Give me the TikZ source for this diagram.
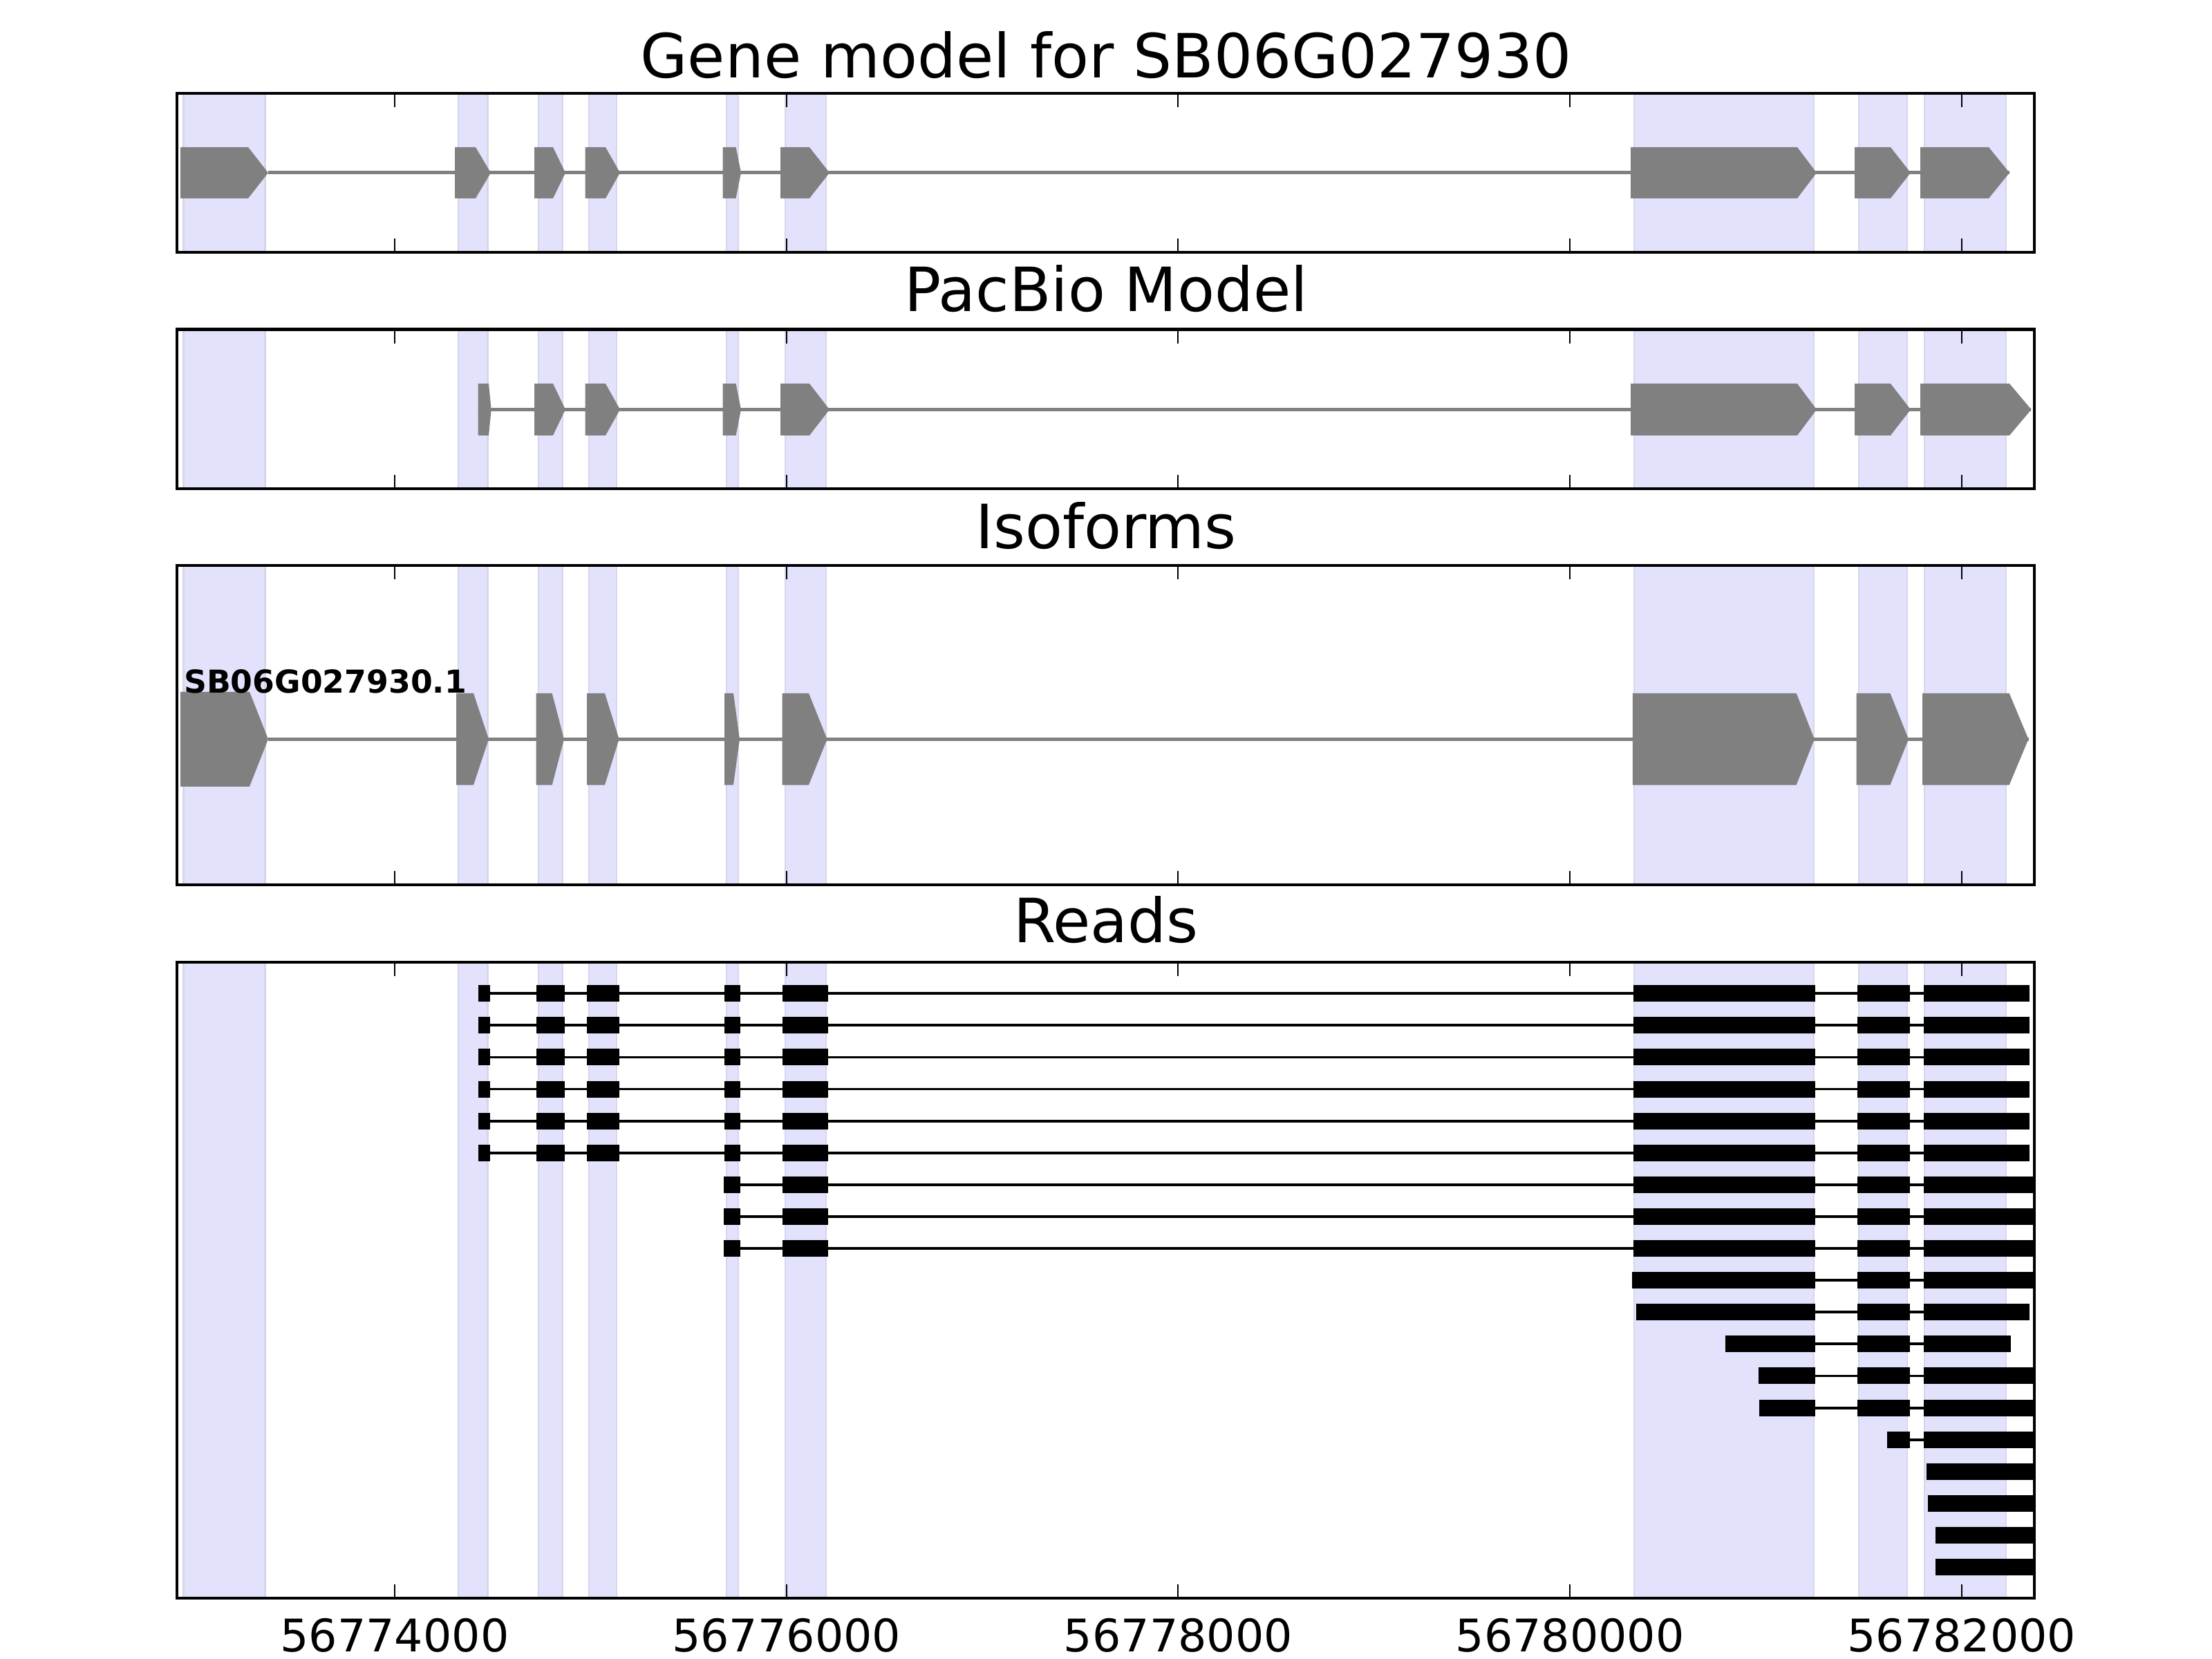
\documentclass[tikz,border=0pt]{standalone}
\usepackage{fontspec}
\setmainfont{DejaVu Sans}
\usetikzlibrary{positioning}
\definecolor{bandfill}{RGB}{226,226,252}
\definecolor{bandedge}{RGB}{214,214,234}
\definecolor{exongray}{RGB}{128,128,128}
\tikzset{
  frame/.style={draw=black, line width=1.3pt},
  tickmark/.style={draw=black, line width=0.6pt},
  band/.style={fill=bandfill, draw=bandedge, line width=0.8pt},
  intron/.style={draw=exongray, line width=1.4pt},
  exon/.style={fill=exongray},
  readline/.style={draw=black, line width=1.1pt},
  readblock/.style={fill=black},
  paneltitle/.style={anchor=base, inner sep=0pt, font=\fontsize{25.1}{30}\selectfont},
  ticklabel/.style={anchor=base, inner sep=0pt, font=\fontsize{18.5}{22}\selectfont},
}
\def\xl{2.56}
\def\xr{29.43}
\def\bands{2.655/3.835, 6.63/7.056, 7.79/8.14, 8.52/8.92, 10.51/10.68,
  11.36/11.95, 23.64/26.24, 26.89/27.59, 27.84/29.02}

\begin{document}
\begin{tikzpicture}
\useasboundingbox (0,0) rectangle (32,24);

% highlighted exon regions, in every panel
\foreach \bot/\top in {20.35/22.65, 16.93/19.233, 11.20/15.82, 0.88/10.08}
  \foreach \p/\q in \bands
    \draw[band] (\p,\bot) rectangle (\q,\top);

% gene model
\begin{scope}[yshift=21.50cm]
  \def\h{0.37}
  \draw[intron] (3.88,0) -- (29.07,0);
  \foreach \a/\b/\c in {2.61/3.59/3.88, 6.58/6.88/7.10, 7.73/8.00/8.18,
      8.465/8.76/8.97, 10.455/10.646/10.72, 11.29/11.71/12.00,
      23.59/26.00/26.28, 26.83/27.35/27.64, 27.78/28.77/29.07}
    \fill[exon] (\a,-\h) -- (\b,-\h) -- (\c,0) -- (\b,\h) -- (\a,\h) -- cycle;
\end{scope}

% pacbio model
\begin{scope}[yshift=18.075cm]
  \def\h{0.375}
  \draw[intron] (6.915,0) -- (29.38,0);
  \foreach \a/\b/\c in {6.915/7.07/7.107, 7.73/8.00/8.18,
      8.465/8.76/8.97, 10.455/10.646/10.72, 11.29/11.71/12.00,
      23.59/26.00/26.28, 26.83/27.35/27.64, 27.78/29.07/29.386}
    \fill[exon] (\a,-\h) -- (\b,-\h) -- (\c,0) -- (\b,\h) -- (\a,\h) -- cycle;
\end{scope}

% isoforms
\begin{scope}[yshift=13.307cm]
  \def\h{0.663}
  \draw[intron] (3.88,0) -- (29.345,0);
  \fill[exon] (2.61,-0.685) -- (3.61,-0.685) -- (3.88,0) -- (3.61,0.685) -- (2.61,0.685) -- cycle;
  \foreach \a/\b/\c in {6.60/6.85/7.07, 7.757/7.987/8.16,
      8.49/8.75/8.956, 10.48/10.61/10.70, 11.316/11.70/11.966,
      23.618/25.987/26.248, 26.857/27.345/27.61, 27.81/29.067/29.345}
    \fill[exon] (\a,-\h) -- (\b,-\h) -- (\c,0) -- (\b,\h) -- (\a,\h) -- cycle;
\end{scope}
\node[anchor=base west, inner sep=0pt, font=\bfseries\fontsize{13}{15}\selectfont]
  (isolabel) at (2.655,13.97) {SB06G027930.1};

% reads
\foreach \r/\s/\e/\bl in {
    1/6.915/29.357/{6.915/7.087, 7.757/8.172, 8.49/8.956, 10.48/10.71, 11.316/11.98, 23.625/26.26, 26.866/27.625, 27.826/29.357},
    2/6.915/29.357/{6.915/7.087, 7.757/8.172, 8.49/8.956, 10.48/10.71, 11.316/11.98, 23.625/26.26, 26.866/27.625, 27.826/29.357},
    3/6.915/29.357/{6.915/7.087, 7.757/8.172, 8.49/8.956, 10.48/10.71, 11.316/11.98, 23.625/26.26, 26.866/27.625, 27.826/29.357},
    4/6.915/29.357/{6.915/7.087, 7.757/8.172, 8.49/8.956, 10.48/10.71, 11.316/11.98, 23.625/26.26, 26.866/27.625, 27.826/29.357},
    5/6.915/29.357/{6.915/7.087, 7.757/8.172, 8.49/8.956, 10.48/10.71, 11.316/11.98, 23.625/26.26, 26.866/27.625, 27.826/29.357},
    6/6.915/29.357/{6.915/7.087, 7.757/8.172, 8.49/8.956, 10.48/10.71, 11.316/11.98, 23.625/26.26, 26.866/27.625, 27.826/29.357},
    7/10.47/29.43/{10.47/10.71, 11.316/11.98, 23.625/26.26, 26.866/27.625, 27.826/29.43},
    8/10.47/29.43/{10.47/10.71, 11.316/11.98, 23.625/26.26, 26.866/27.625, 27.826/29.43},
    9/10.47/29.43/{10.47/10.71, 11.316/11.98, 23.625/26.26, 26.866/27.625, 27.826/29.43},
    10/23.607/29.43/{23.607/26.26, 26.866/27.625, 27.826/29.43},
    11/23.67/29.357/{23.67/26.26, 26.866/27.625, 27.826/29.357},
    12/24.96/29.09/{24.96/26.26, 26.866/27.625, 27.826/29.09},
    13/25.44/29.43/{25.44/26.26, 26.866/27.625, 27.826/29.43},
    14/25.45/29.43/{25.45/26.26, 26.866/27.625, 27.826/29.43},
    15/27.30/29.43/{27.30/27.625, 27.826/29.43},
    16/27.866/29.43/{27.866/29.43},
    17/27.89/29.43/{27.89/29.43},
    18/28.00/29.43/{28.00/29.43},
    19/28.00/29.43/{28.00/29.43}} {
  \pgfmathsetmacro\yy{9.627-0.461*(\r-1)}
  \draw[readline] (\s,\yy) -- (\e,\yy);
  \foreach \p/\q in \bl
    \fill[readblock] (\p,\yy-0.12) rectangle (\q,\yy+0.12);
}

% frames and ticks
\foreach \bot/\top in {20.35/22.65, 16.93/19.233, 11.20/15.82, 0.88/10.08} {
  \foreach \i in {0,...,4} {
    \draw[tickmark] (5.71+5.667*\i,\bot) -- ++(0,0.2);
    \draw[tickmark] (5.71+5.667*\i,\top) -- ++(0,-0.2);
  }
  \draw[frame] (\xl,\bot) rectangle (\xr,\top);
}

% titles
\node[paneltitle] (genetitle) at (16,22.87) {Gene model for SB06G027930};
\node[paneltitle] (pacbiotitle) at (16,19.49) {PacBio Model};
\node[paneltitle] (isotitle) at (16,16.06) {Isoforms};
\node[paneltitle] (readtitle) at (16,10.36) {Reads};

% position labels
\foreach \v [count=\i from 0] in {56774000,56776000,56778000,56780000,56782000}
  \node[ticklabel] (tl\i) at (5.71+5.667*\i,0.10) {\v};
\end{tikzpicture}
\end{document}
